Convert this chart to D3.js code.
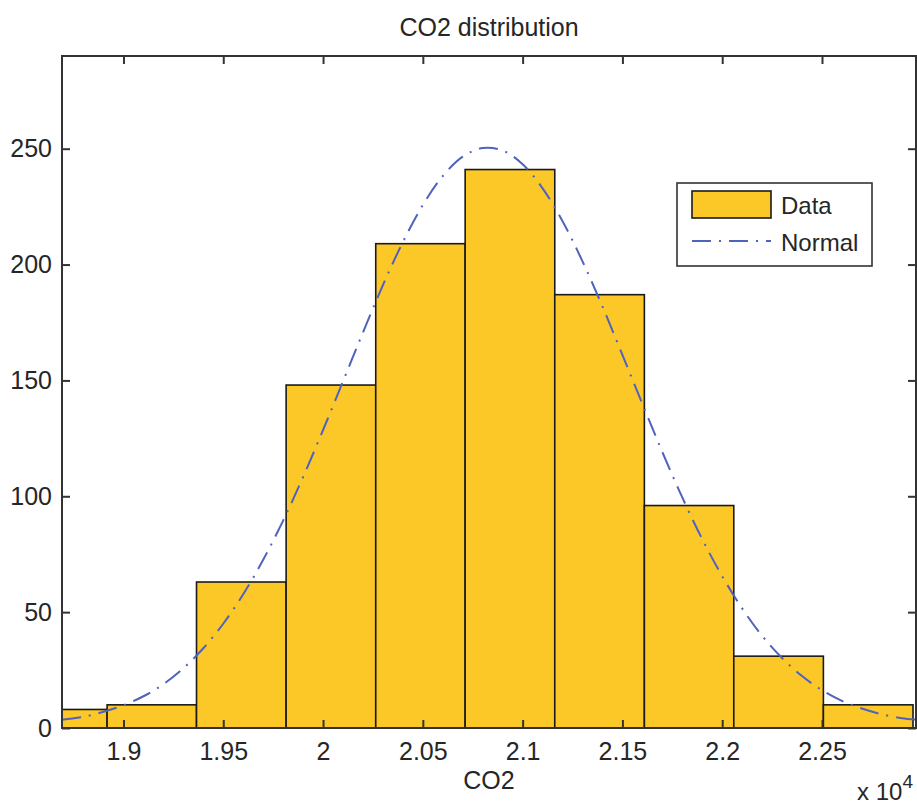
<!DOCTYPE html>
<html>
<head>
<meta charset="utf-8">
<script src="https://cdn.jsdelivr.net/npm/d3@7"></script>
<style>
  html, body { margin: 0; padding: 0; background: #ffffff; }
  svg { display: block; }
  text { font-family: "Liberation Sans", Arial, Helvetica, sans-serif; fill: #262626; }
</style>
</head>
<body>
<svg id="chart" width="917" height="804"></svg>
<script>
// ---- Data (CO2 values in units of 10^4) ----
const binEdges = [1.8469, 1.8918, 1.9366, 1.9815, 2.0264, 2.0712, 2.1161, 2.1610, 2.2058, 2.2507, 2.2956];
const binCounts = [8, 10, 63, 148, 209, 241, 187, 96, 31, 10];

const normalX = [1.8692, 1.88, 1.89, 1.90, 1.91, 1.92, 1.93, 1.94, 1.95, 1.96, 1.97, 1.98, 1.99, 2.00,
                 2.01, 2.02, 2.03, 2.04, 2.05, 2.06, 2.07, 2.08, 2.09, 2.10, 2.11, 2.12, 2.13, 2.14,
                 2.15, 2.16, 2.17, 2.18, 2.19, 2.20, 2.21, 2.22, 2.23, 2.24, 2.25, 2.26, 2.27, 2.28,
                 2.29, 2.2971];
const normalY = [3.6, 4.8, 7.0, 9.8, 13.7, 18.9, 25.8, 34.4, 45.0, 57.7, 72.6, 89.5, 108.3, 128.6,
                 149.6, 170.7, 191.1, 209.7, 225.7, 238.2, 246.6, 250.3, 249.2, 243.3, 232.9, 218.7, 201.4, 181.9,
                 161.0, 139.9, 119.1, 99.5, 81.5, 65.5, 51.6, 39.8, 30.2, 22.4, 16.3, 11.7, 8.4, 5.9,
                 4.2, 3.6];

const xTicks = [1.9, 1.95, 2.0, 2.05, 2.1, 2.15, 2.2, 2.25];
const xTickLabels = ["1.9", "1.95", "2", "2.05", "2.1", "2.15", "2.2", "2.25"];
const yTicks = [0, 50, 100, 150, 200, 250];
const xDomain = [1.8692, 2.2971];
const yDomain = [0, 290];

const titleText = "CO2 distribution";
const xLabelText = "CO2";
const legendLabels = ["Data", "Normal"];

// ---- Layout ----
const plot = { left: 62, top: 56, right: 916, bottom: 728 };
const barFill = "#fcc828";
const lineColor = "#4f62bd";
const axisColor = "#333333";
const fontSize = 25;

const svg = d3.select("#chart");

const x = d3.scaleLinear().domain(xDomain).range([plot.left, plot.right]);
const y = d3.scaleLinear().domain(yDomain).range([plot.bottom, plot.top]);

svg.append("defs").append("clipPath").attr("id", "plotClip")
  .append("rect")
  .attr("x", plot.left).attr("y", plot.top)
  .attr("width", plot.right - plot.left).attr("height", plot.bottom - plot.top);

const bins = binCounts.map((c, i) => ({ x0: binEdges[i], x1: binEdges[i + 1], count: c }));

const g = svg.append("g").attr("clip-path", "url(#plotClip)");

g.selectAll("rect.bar").data(bins).enter().append("rect")
  .attr("class", "bar")
  .attr("x", d => x(d.x0))
  .attr("y", d => y(d.count))
  .attr("width", d => x(d.x1) - x(d.x0))
  .attr("height", d => y(0) - y(d.count))
  .attr("fill", barFill)
  .attr("stroke", "#1a1a1a")
  .attr("stroke-width", 1.6);

const normalPts = normalX.map((v, i) => [v, normalY[i]]);
const line = d3.line().x(d => x(d[0])).y(d => y(d[1])).curve(d3.curveCatmullRom);

g.append("path")
  .datum(normalPts)
  .attr("d", line)
  .attr("fill", "none")
  .attr("stroke", lineColor)
  .attr("stroke-width", 2)
  .attr("stroke-dasharray", "19,8,2,8");

// ---- Axes box with inward ticks (MATLAB style) ----
const tickLen = 8;
const axB = d3.axisBottom(x).tickValues(xTicks).tickSizeInner(-tickLen).tickSizeOuter(0)
  .tickPadding(14).tickFormat((d, i) => xTickLabels[i]);
const axT = d3.axisTop(x).tickValues(xTicks).tickSizeInner(-tickLen).tickSizeOuter(0).tickFormat("");
const axL = d3.axisLeft(y).tickValues(yTicks).tickSizeInner(-tickLen).tickSizeOuter(0)
  .tickPadding(10).tickFormat(d3.format("d"));
const axR = d3.axisRight(y).tickValues(yTicks).tickSizeInner(-tickLen).tickSizeOuter(0).tickFormat("");

function styleAxis(sel) {
  sel.select(".domain").remove();
  sel.selectAll(".tick line").attr("stroke", axisColor).attr("stroke-width", 2);
  sel.selectAll(".tick text").attr("fill", "#262626")
    .style("font-family", "'Liberation Sans', Arial, sans-serif")
    .style("font-size", fontSize + "px");
}

svg.append("g").attr("transform", `translate(0,${plot.bottom})`).call(axB).call(styleAxis);
svg.append("g").attr("transform", `translate(0,${plot.top})`).call(axT).call(styleAxis);
svg.append("g").attr("transform", `translate(${plot.left},0)`).call(axL).call(styleAxis);
svg.append("g").attr("transform", `translate(${plot.right},0)`).call(axR).call(styleAxis);

svg.append("rect")
  .attr("x", plot.left).attr("y", plot.top)
  .attr("width", plot.right - plot.left).attr("height", plot.bottom - plot.top)
  .attr("fill", "none").attr("stroke", axisColor).attr("stroke-width", 2);

// ---- Title and labels ----
svg.append("text").attr("x", (plot.left + plot.right) / 2).attr("y", 36)
  .attr("text-anchor", "middle").style("font-size", fontSize + "px").text(titleText);

svg.append("text").attr("x", (plot.left + plot.right) / 2).attr("y", 789)
  .attr("text-anchor", "middle").style("font-size", fontSize + "px").text(xLabelText);

const expText = svg.append("text").attr("x", 857).attr("y", 800).style("font-size", "24px");
expText.append("tspan").text("x 10");
expText.append("tspan").attr("dy", -12).style("font-size", "19px").text("4");

// ---- Legend ----
const leg = svg.append("g");
leg.append("rect").attr("x", 677).attr("y", 183).attr("width", 195).attr("height", 83)
  .attr("fill", "#ffffff").attr("stroke", axisColor).attr("stroke-width", 1.6);
leg.append("rect").attr("x", 692).attr("y", 191).attr("width", 79).attr("height", 27)
  .attr("fill", barFill).attr("stroke", "#1a1a1a").attr("stroke-width", 1.6);
leg.append("text").attr("x", 781).attr("y", 214).style("font-size", "24px").text(legendLabels[0]);
leg.append("line").attr("x1", 692).attr("x2", 771).attr("y1", 241).attr("y2", 241)
  .attr("stroke", lineColor).attr("stroke-width", 2).attr("stroke-dasharray", "19,8,2,8");
leg.append("text").attr("x", 781).attr("y", 251).style("font-size", "24px").text(legendLabels[1]);
</script>
</body>
</html>
